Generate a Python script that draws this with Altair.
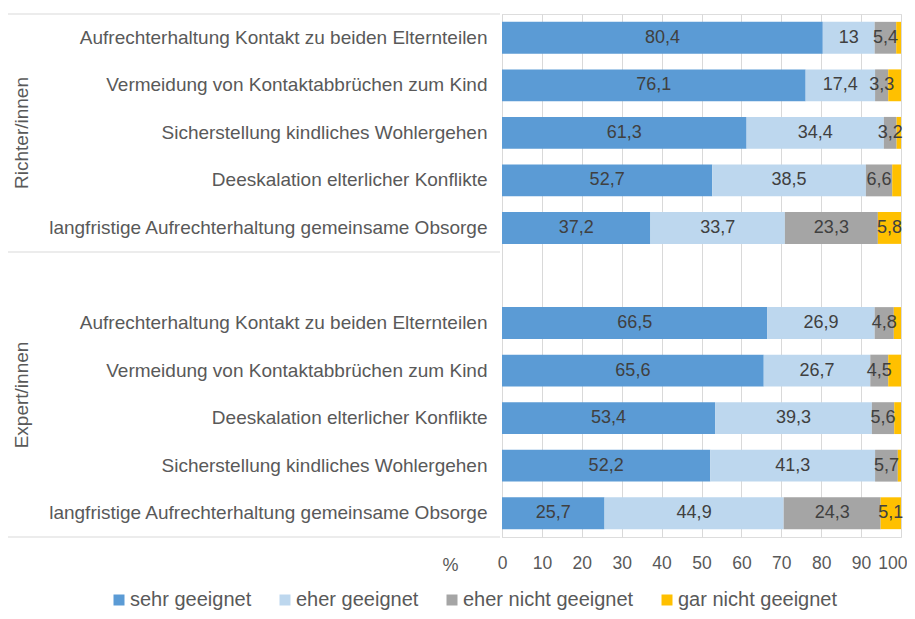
import altair as alt
import pandas as pd

categories = ["sehr geeignet", "eher geeignet", "eher nicht geeignet", "gar nicht geeignet"]
colors = ["#5B9BD5", "#BDD7EE", "#A5A5A5", "#FFC000"]

items_richter = [
    "Aufrechterhaltung Kontakt zu beiden Elternteilen",
    "Vermeidung von Kontaktabbrüchen zum Kind",
    "Sicherstellung kindliches Wohlergehen",
    "Deeskalation elterlicher Konflikte",
    "langfristige Aufrechterhaltung gemeinsame Obsorge",
]
richter_sehr = [80.4, 76.1, 61.3, 52.7, 37.2]
richter_eher = [13.0, 17.4, 34.4, 38.5, 33.7]
richter_eher_nicht = [5.4, 3.3, 3.2, 6.6, 23.3]
richter_gar_nicht = [1.2, 3.2, 1.1, 2.2, 5.8]

items_expert = [
    "Aufrechterhaltung Kontakt zu beiden Elternteilen",
    "Vermeidung von Kontaktabbrüchen zum Kind",
    "Deeskalation elterlicher Konflikte",
    "Sicherstellung kindliches Wohlergehen",
    "langfristige Aufrechterhaltung gemeinsame Obsorge",
]
expert_sehr = [66.5, 65.6, 53.4, 52.2, 25.7]
expert_eher = [26.9, 26.7, 39.3, 41.3, 44.9]
expert_eher_nicht = [4.8, 4.5, 5.6, 5.7, 24.3]
expert_gar_nicht = [1.8, 3.2, 1.7, 0.8, 5.1]

group_names = ["Richter/innen", "Expert/innen"]
x_ticks = list(range(0, 101, 10))

FONT = "Liberation Sans"
TXT = "#595959"


def fmt(v):
    return f"{v:g}".replace(".", ",")


rows = []
keys_r = [f"R{i}|{t}" for i, t in enumerate(items_richter)]
keys_e = [f"E{i}|{t}" for i, t in enumerate(items_expert)]
for keys, series in [
    (keys_r, [richter_sehr, richter_eher, richter_eher_nicht, richter_gar_nicht]),
    (keys_e, [expert_sehr, expert_eher, expert_eher_nicht, expert_gar_nicht]),
]:
    for i, k in enumerate(keys):
        for o, (cat, vals) in enumerate(zip(categories, series)):
            rows.append({"key": k, "cat": cat, "order": o, "value": vals[i], "label": fmt(vals[i])})
df = pd.DataFrame(rows)

domain_keys = keys_r + ["S|"] + keys_e

y_scale = alt.Scale(domain=domain_keys, paddingInner=0.33, paddingOuter=0.165)
y_axis = alt.Axis(
    labelExpr="split(datum.label, '|')[1]",
    ticks=False,
    tickSize=0,
    labelPadding=15,
    labelFontSize=19,
    labelColor=TXT,
    labelFont=FONT,
    labelLimit=600,
    domain=True,
    domainColor="#D9D9D9",
    grid=False,
)
x_scale = alt.Scale(domain=[0, 100], nice=False)
x_axis = alt.Axis(
    values=x_ticks,
    ticks=False,
    tickSize=0,
    labelPadding=17,
    labelFontSize=17.5,
    labelColor=TXT,
    labelFont=FONT,
    labelOverlap=False,
    labelFlush=False,
    labelAlign={"condition": {"test": "datum.value == 100", "value": "right"}, "value": "center"},
    labelOffset={"condition": {"test": "datum.value == 100", "value": 6}, "value": 0},
    domain=False,
    grid=True,
    gridColor="#D9D9D9",
    title="%",
    titleX=-52,
    titleY=28,
    titleBaseline="middle",
    titleAlign="center",
    titleFontSize=18,
    titleFontWeight="normal",
    titleColor=TXT,
    titleFont=FONT,
)

stacked = alt.Chart(df).transform_stack(
    stack="value", as_=["x0", "x1"], groupby=["key"], sort=[alt.SortField("order")]
)

bars = stacked.mark_bar().encode(
    y=alt.Y("key:N", scale=y_scale, axis=y_axis, title=None),
    x=alt.X("x0:Q", scale=x_scale, axis=x_axis),
    x2="x1:Q",
    color=alt.Color(
        "cat:N",
        scale=alt.Scale(domain=categories, range=colors),
        title=None,
        legend=alt.Legend(
            orient="none",
            legendX=-393,
            legendY=576,
            direction="horizontal",
            symbolType="square",
            symbolSize=121,
            symbolStrokeWidth=0,
            labelFontSize=20,
            labelColor=TXT,
            labelFont=FONT,
            labelOffset=1,
            labelLimit=400,
            columnPadding=23,
        ),
    ),
    order=alt.Order("order:Q"),
)

texts = stacked.transform_calculate(mid="(datum.x0 + datum.x1) / 2").transform_filter(
    "datum.cat != 'gar nicht geeignet' || datum.value >= 5"
).mark_text(fontSize=18, color="#404040", font=FONT).encode(
    y=alt.Y("key:N", scale=y_scale, axis=y_axis, title=None),
    x=alt.X("mid:Q", scale=x_scale, axis=x_axis),
    text="label:N",
)

one = pd.DataFrame({"a": [0]})
seps = [
    alt.Chart(one).mark_rule(color="#D9D9D9", strokeWidth=1).encode(
        x=alt.value(-494), x2=alt.value(-2), y=alt.value(py)
    )
    for py in [0, 238, 523]
]

glabels = [
    alt.Chart(pd.DataFrame({"g": [name]})).mark_text(
        angle=270, fontSize=19, color=TXT, font=FONT, baseline="middle", align="center"
    ).encode(text="g:N", x=alt.value(-480), y=alt.value(py))
    for name, py in zip(group_names, [119, 381])
]

chart = alt.layer(bars, texts, *seps, *glabels).properties(
    width=399,
    height=523,
    autosize=alt.AutoSizeParams(type="none"),
    padding={"left": 494, "top": 6, "right": 6, "bottom": 74},
).configure_view(strokeWidth=0).configure(font=FONT)

chart.save("out.html", embed_options={"renderer": "svg", "actions": False})
